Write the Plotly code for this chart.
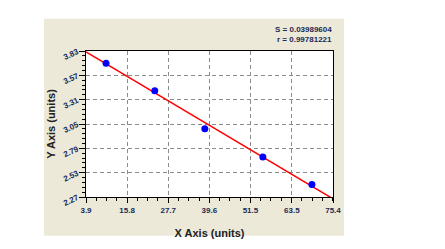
import plotly.graph_objects as go
import numpy as np

x_vals = [9.7, 23.8, 38.3, 55.1, 69.3]
y_vals = [3.70, 3.404, 3.00, 2.697, 2.404]
fit_slope = -0.02195
fit_intercept = 3.9056
x_ticks = [3.9, 15.8, 27.7, 39.6, 51.5, 63.5, 75.4]
y_ticks = [2.27, 2.53, 2.79, 3.05, 3.31, 3.57, 3.83]
stats_text = ["S = 0.03989604", "r = 0.99781221"]

fx = np.array([x_ticks[0], x_ticks[-1]])
fy = fit_intercept + fit_slope * fx

fig = go.Figure()
fig.add_trace(go.Scatter(x=fx, y=fy, mode="lines", line=dict(color="#ff0000", width=1.5),
                         hoverinfo="skip", showlegend=False))
fig.add_trace(go.Scatter(x=x_vals, y=y_vals, mode="markers",
                         marker=dict(color="#0000ff", size=7), showlegend=False, cliponaxis=False))

W, H = 445, 249
L, R, T, B = 86, 333, 50.5, 206.5
pw, ph = R - L, B - T
def px(xp): return (xp - L) / pw
def py(yp): return (B - yp) / ph

# beige panel drawn as a frame around the plot area (panel spans x 44..344, y 16..248)
for (x0, x1, y0, y1) in [(44, L, 16, 248), (R, 344, 16, 248), (L, R, 16, T), (L, R, B, 248)]:
    fig.add_shape(type="rect", xref="paper", yref="paper", x0=px(x0), x1=px(x1), y0=py(y1), y1=py(y0),
                  fillcolor="#ece9d8", line=dict(width=0), layer="below")

grid_color = "#8c8c8c"
tickfont = dict(family="Arial", size=8, color="#1c2a55")
fig.update_xaxes(range=[x_ticks[0], x_ticks[-1]], tickvals=x_ticks, ticktext=[f"<b>{v}</b>" for v in x_ticks],
                 showgrid=True, gridcolor=grid_color, griddash="4px,3px", gridwidth=1,
                 ticks="outside", ticklen=5, tickcolor="black", tickfont=tickfont,
                 showline=True, linecolor="black", linewidth=1, mirror=True, zeroline=False,
                 minor=dict(dtick=2.975, tick0=3.9, ticks="outside", ticklen=3, tickcolor="black", showgrid=False),
                 title=dict(text="<b>X Axis (units)</b>", font=dict(family="Arial", size=11, color="#222"), standoff=15))
fig.update_yaxes(range=[y_ticks[0], y_ticks[-1]], tickvals=y_ticks, ticktext=[f"<b>{v:.2f}</b>" for v in y_ticks],
                 showgrid=True, gridcolor=grid_color, griddash="4px,3px", gridwidth=1,
                 ticks="outside", ticklen=6, tickcolor="black", tickfont=tickfont, tickangle=-25,
                 showline=True, linecolor="black", linewidth=1, mirror=True, zeroline=False,
                 minor=dict(dtick=0.052, tick0=2.27, ticks="outside", ticklen=3, tickcolor="black", showgrid=False),
                 title=dict(text="<b>Y Axis (units)</b>", font=dict(family="Arial", size=11, color="#222"), standoff=4))

for i, t in enumerate(stats_text):
    fig.add_annotation(text=f"<b>{t}</b>", xref="paper", yref="paper", x=px(334), y=py(28 + 10 * i),
                       xanchor="right", yanchor="middle", showarrow=False,
                       font=dict(family="Arial", size=8, color="#1c2a55"))

fig.update_layout(width=W, height=H, paper_bgcolor="white", plot_bgcolor="white",
                  margin=dict(l=L, r=W - R, t=T, b=H - B), showlegend=False)
fig.write_html("out.html")
